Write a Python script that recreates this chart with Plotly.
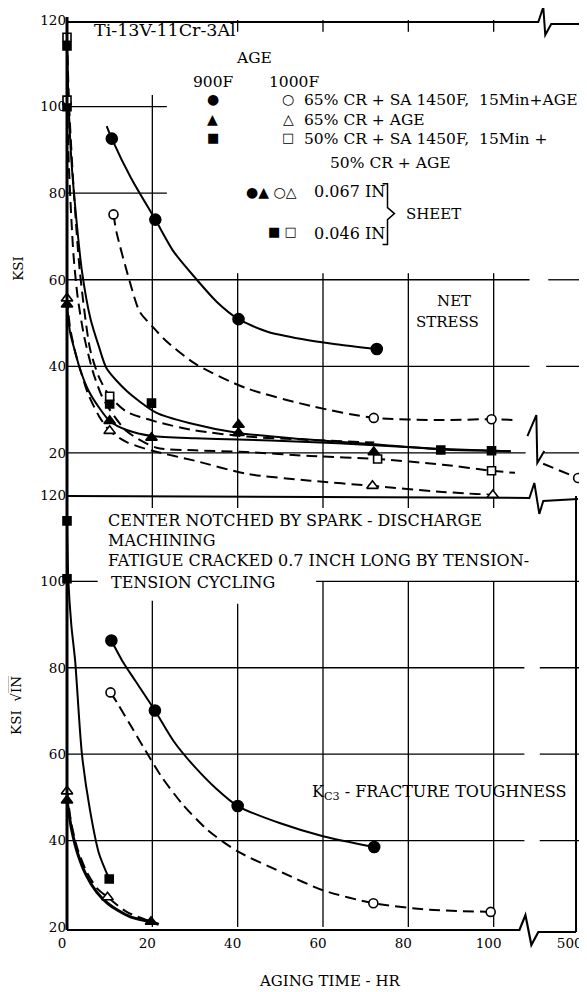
import plotly.graph_objects as go

# ---------------- NET STRESS panel (KSI) ----------------
# 900F  65% CR + SA 1450F, 15Min + AGE  (filled circle, solid)
ns_fc_hr = [10.5, 20.7, 40.2, 72.6]
ns_fc_ksi = [92.6, 73.9, 50.9, 44.0]
ns_fc_line_hr = [9.3, 10.5, 15, 20.7, 25, 30, 35, 40.2, 47, 55, 63, 72.6]
ns_fc_line_ksi = [95.5, 92.6, 83.5, 73.9, 66.5, 60.5, 55, 50.9, 48, 46.3, 45.1, 44.0]

# 1000F 65% CR + SA 1450F, 15Min + AGE  (open circle, dashed)
ns_oc_hr = [10.9, 71.9, 99.5]
ns_oc_ksi = [75.1, 28.1, 27.8]
ns_oc_line_hr = [10.9, 11.6, 14.7, 17, 20.2, 23.3, 30.2, 41.9, 57.4, 71.9, 88, 99.5, 105]
ns_oc_line_ksi = [75.1, 71, 59.6, 52.7, 49, 45.8, 40.5, 35, 30.8, 28.1, 27.6, 27.8, 27.6]

# 900F  65% CR + AGE  (filled triangle, solid)
ns_ft_hr = [0, 10, 19.8, 40.2, 40.2, 71.9]
ns_ft_ksi = [54.3, 27.4, 23.5, 26.5, 24.6, 20.2]
ns_ft_line_hr = [0, 0.7, 2, 3, 5, 7.5, 10, 14, 20, 30, 40, 55, 72, 87, 100, 104]
ns_ft_line_ksi = [54.3, 48, 43, 39.5, 34.5, 30.5, 27.4, 25.3, 23.9, 23.4, 23.1, 22.6, 21.8, 21, 20.5, 20.4]

# 1000F 65% CR + AGE  (open triangle, dashed)
ns_ot_hr = [0, 10, 71.6, 99.8]
ns_ot_ksi = [55.7, 25.1, 12.4, 10.3]
ns_ot_line_hr = [0, 0.7, 2, 3.5, 5, 7.5, 10, 14, 20, 30, 42, 57, 71.6, 88, 99.8]
ns_ot_line_ksi = [55.7, 49, 43, 38, 33.5, 28.5, 25.1, 22.5, 20.5, 18.2, 15.2, 13.6, 12.4, 11, 10.3]

# 900F  50% CR + SA 1450F, 15Min + 50% CR + AGE  (filled square, solid)
ns_fs_hr = [0, 0, 10, 19.8, 87.6, 99.5]
ns_fs_ksi = [114, 100, 31.3, 31.5, 20.7, 20.5]
ns_fs_line_hr = [0, 0.4, 1, 2, 3.5, 5.5, 7.5, 9.3, 14, 20.9, 28.6, 40.2, 55, 72, 87.6, 99.5, 104]
ns_fs_line_ksi = [114, 100, 88, 76, 62, 51, 44.5, 39.5, 34.3, 29.3, 26.9, 24.6, 23.2, 22, 20.8, 20.5, 20.4]

# 1000F 50% CR + SA 1450F, 15Min + 50% CR + AGE  (open square, dashed)
ns_os_hr = [0, 0, 10, 72.8, 99.5]
ns_os_ksi = [116, 101.5, 33.1, 18.6, 15.9]
ns_os_line_a_hr = [0, 0.5, 1.5, 3, 5.4, 7.5, 10, 14, 21, 30, 42, 57, 72]
ns_os_line_a_ksi = [116, 100, 82, 62, 44, 37.5, 33.1, 29.5, 27.2, 25.2, 23.8, 23, 22.4]
ns_os_line_b_hr = [0, 0.5, 1.5, 2.5, 4, 6, 8, 10, 14, 21, 30, 42, 57, 72.8, 88, 99.5, 105]
ns_os_line_b_ksi = [101.5, 85, 66, 56, 47, 39, 33.5, 30, 25, 21.2, 20.6, 20.2, 19.3, 18.6, 17.3, 15.9, 15.4]

# beyond the axis break: 500 HR
POS_500 = 119.8
ns_500_line_hr = [111.6, POS_500]
ns_500_line_ksi = [17.5, 14.2]
ns_500_ksi = [14.2]

# ---------------- FRACTURE TOUGHNESS panel (KSI sqrt IN) ----------------
kc_fc_hr = [10.4, 20.6, 40, 72]
kc_fc_val = [86.3, 70.1, 48.0, 38.5]
kc_fc_line_hr = [10.4, 12.9, 16, 20.6, 25, 30, 35, 40, 50, 60, 72]
kc_fc_line_val = [86.3, 81.7, 77, 70.1, 63, 57, 52, 48, 44, 41, 38.5]

kc_oc_hr = [10.2, 71.8, 99.3]
kc_oc_val = [74.3, 25.5, 23.5]
kc_oc_line_hr = [10.2, 12, 15, 18.3, 22, 27, 33, 40, 50.7, 60, 71.8, 85, 99.3]
kc_oc_line_val = [74.3, 71.5, 66.5, 61, 55, 48.5, 42.4, 37.5, 32.5, 28.5, 25.5, 24, 23.5]

kc_fs_hr = [0, 0, 9.9]
kc_fs_val = [114, 100.6, 31.1]
kc_fs_line_hr = [0, 0.3, 1, 1.9, 3.5, 5.4, 7.5, 9.9]
kc_fs_line_val = [114, 100.6, 90, 81.7, 60, 47, 37, 31.1]

kc_ft_hr = [0, 19.7]
kc_ft_val = [49.3, 21.2]
kc_ft_line_hr = [0, 1, 2.5, 4.5, 7, 9.5, 12, 15, 19.7, 21.5]
kc_ft_line_val = [49.3, 43, 37, 32, 28, 25.5, 23.8, 22.3, 21.2, 20.6]

kc_ot_hr = [0, 9.5]
kc_ot_val = [51.4, 26.9]
kc_ot_line_hr = [0, 1, 2.5, 4.5, 7, 9.5, 14, 19.7]
kc_ot_line_val = [51.4, 44, 38, 33, 29, 26.9, 23.5, 21.2]

x_tick_vals = [0, 20, 40, 60, 80, 100, 119]
x_tick_text = ['0', '20', '40', '60', '80', '100', '500']
y_ticks = [20, 40, 60, 80, 100, 120]

# ---------------- layout geometry ----------------
OFF = 8                    # page body margin in the browser
W, H = 587 - OFF, 992 - OFF
PLOT_L, PLOT_R, PLOT_T, PLOT_B = 67, 583, 18, 927   # plot area, page pixels
ML, MR = PLOT_L - OFF, W - (PLOT_R - OFF)
MT, MB = PLOT_T - OFF, H - (PLOT_B - OFF)
SPLIT = 433 / 909          # bottom panel share of plot height
TOP_Y0 = 10.3
FONT = 'DejaVu Serif'


def P(px, py):
    # page pixel position -> paper coordinates
    return (px - PLOT_L) / (PLOT_R - PLOT_L), (PLOT_B - py) / (PLOT_B - PLOT_T)


def path_px(pts):
    s = ''
    for i, (px, py) in enumerate(pts):
        x, y = P(px, py)
        s += ('M' if i == 0 else 'L') + f'{x:.5f},{y:.5f} '
    return s.strip()


fig = go.Figure()


def curve(x, y, top, dash=False, width=2.0):
    fig.add_trace(go.Scatter(
        x=x, y=y, mode='lines',
        line=dict(color='black', width=width, dash='11px,6px' if dash else 'solid',
                  shape='spline', smoothing=0.7),
        xaxis='x2' if top else 'x', yaxis='y2' if top else 'y',
        hoverinfo='skip', showlegend=False))


def marks(x, y, top, symbol, filled, size=10):
    fig.add_trace(go.Scatter(
        x=x, y=y, mode='markers', cliponaxis=False,
        marker=dict(symbol=symbol, size=size, color='black' if filled else 'white',
                    line=dict(color='black', width=1.6)),
        xaxis='x2' if top else 'x', yaxis='y2' if top else 'y',
        hoverinfo='skip', showlegend=False))


# top panel
curve(ns_fc_line_hr, ns_fc_line_ksi, True)
curve(ns_oc_line_hr, ns_oc_line_ksi, True, dash=True)
curve(ns_ft_line_hr, ns_ft_line_ksi, True)
curve(ns_ot_line_hr, ns_ot_line_ksi, True, dash=True)
curve(ns_fs_line_hr, ns_fs_line_ksi, True)
curve(ns_os_line_a_hr, ns_os_line_a_ksi, True, dash=True)
curve(ns_os_line_b_hr, ns_os_line_b_ksi, True, dash=True)
curve(ns_500_line_hr, ns_500_line_ksi, True, dash=True)
marks(ns_fc_hr, ns_fc_ksi, True, 'circle', True, 11)
marks(ns_oc_hr, ns_oc_ksi, True, 'circle', False, 9)
marks([POS_500], ns_500_ksi, True, 'circle', False, 9)
marks(ns_ft_hr, ns_ft_ksi, True, 'triangle-up', True, 10)
marks(ns_ot_hr, ns_ot_ksi, True, 'triangle-up', False, 10)
marks(ns_fs_hr, ns_fs_ksi, True, 'square', True, 8)
marks(ns_os_hr, ns_os_ksi, True, 'square', False, 8)

# bottom panel
curve(kc_fc_line_hr, kc_fc_line_val, False)
curve(kc_oc_line_hr, kc_oc_line_val, False, dash=True)
curve(kc_fs_line_hr, kc_fs_line_val, False)
curve(kc_ft_line_hr, kc_ft_line_val, False, width=3)
curve(kc_ot_line_hr, kc_ot_line_val, False, dash=True)
marks(kc_fc_hr, kc_fc_val, False, 'circle', True, 11)
marks(kc_oc_hr, kc_oc_val, False, 'circle', False, 9)
marks(kc_fs_hr, kc_fs_val, False, 'square', True, 8)
marks(kc_ft_hr, kc_ft_val, False, 'triangle-up', True, 10)
marks(kc_ot_hr, kc_ot_val, False, 'triangle-up', False, 10)

# ---------------- grid (data units) ----------------
grid = []
top_h = [(100, 0, 23.4), (80, 0, 23.4), (60, 0, 108.4), (60, 112.8, 120),
         (40, 0, 108.4), (40, 112.3, 120), (20, 0, 107.5), (20, 111.6, 120)]
top_v = [(20, 102.7, TOP_Y0), (40, 61.5, TOP_Y0), (60, 61.5, TOP_Y0),
         (80, 61.5, TOP_Y0), (100, 61.5, TOP_Y0),
         (40, 120, 117.3), (60, 120, 117.3), (80, 120, 117.3), (100, 120, 117.3)]
bot_h = [(100, 0, 7.2), (100, 58.4, 120), (80, 0, 107.2), (80, 110.8, 120),
         (60, 0, 107.2), (60, 110.8, 120), (40, 0, 107.2), (40, 110.8, 120)]
bot_v = [(20, 95.5, 20), (40, 94.8, 20), (60, 100, 20), (80, 100, 20), (100, 100, 20),
         (20, 120, 117), (40, 120, 117), (60, 120, 117), (80, 120, 117), (100, 120, 117)]
for y, x0, x1 in top_h:
    grid.append(dict(type='line', xref='x2', yref='y2', x0=x0, x1=x1, y0=y, y1=y))
for x, y0, y1 in top_v:
    grid.append(dict(type='line', xref='x2', yref='y2', x0=x, x1=x, y0=y0, y1=y1))
for y, x0, x1 in bot_h:
    grid.append(dict(type='line', xref='x', yref='y', x0=x0, x1=x1, y0=y, y1=y))
for x, y0, y1 in bot_v:
    grid.append(dict(type='line', xref='x', yref='y', x0=x, x1=x, y0=y0, y1=y1))
shapes = []
for g in grid:
    g['line'] = dict(color='black', width=1.3)
    g['layer'] = 'below'
    shapes.append(g)

# ---------------- frame with axis-break zigzags (page pixels) ----------------
frame_paths = [
    ([(67, 15), (67, 930)], 3),
    ([(67, 20), (542, 20), (547, 5), (549, 33), (555, 22), (587, 22)], 2),
    ([(584, 67), (584, 495)], 2),
    ([(580, 495), (580, 932)], 2),
    ([(67, 495), (533, 497), (538, 482), (543, 513), (547, 500), (582, 498)], 2),
    ([(67, 930), (523, 930), (529, 915), (535, 945), (542, 932), (580, 932)], 2.2),
    ([(531, 435), (540, 414), (541, 462), (548, 450)], 2),
    ([(385, 182), (390, 182), (390, 206), (397, 212), (390, 218), (390, 243), (385, 243)], 1.5),
]
for pts, w in frame_paths:
    shapes.append(dict(type='path', xref='paper', yref='paper', path=path_px(pts),
                       line=dict(color='black', width=w)))

# ---------------- texts (page pixels) ----------------
ann = []


def text(s, px, py, size=15, anchor='left', angle=0, family=FONT):
    x, y = P(px, py)
    ann.append(dict(text=s, x=x, y=y, xref='paper', yref='paper', showarrow=False,
                    xanchor=anchor, yanchor='middle', textangle=angle,
                    font=dict(family=family, size=size, color='black')))


text('Ti-13V-11Cr-3Al', 92, 28, 17.5)
text('AGE', 255, 56, 15.5, 'center')
text('900F', 215, 80, 15.5, 'center')
text('1000F', 296, 80, 15.5, 'center')
GL = 'DejaVu Sans'
text('●', 214, 97, 14, 'center', family=GL)
text('○', 290, 97, 14, 'center', family=GL)
text('▲', 214, 117, 14, 'center', family=GL)
text('△', 290, 117, 14, 'center', family=GL)
text('■', 214, 136, 13, 'center', family=GL)
text('□', 290, 136, 13, 'center', family=GL)
text('65% CR + SA 1450F,  15Min+AGE', 304, 98, 15.5)
text('65% CR + AGE', 304, 118, 15.5)
text('50% CR + SA 1450F,  15Min +', 304, 137, 15.5)
text('50% CR + AGE', 330, 161, 15.5)
text('●▲ ○△', 301, 190, 14, 'right', family=GL)
text('0.067 IN', 314, 190, 16)
text('■ □', 301, 230, 13, 'right', family=GL)
text('0.046 IN', 314, 232, 16)
text('SHEET', 407, 212, 15)
text('NET', 457, 300, 15, 'center')
text('STRESS', 450, 321, 15, 'center')
text('CENTER NOTCHED BY SPARK - DISCHARGE', 106, 520, 16)
text('MACHINING', 106, 540, 16)
text('FATIGUE CRACKED 0.7 INCH LONG BY TENSION-', 106, 560, 16)
text('TENSION CYCLING', 109, 582, 16)
text('K<sub>C3</sub> - FRACTURE TOUGHNESS', 312, 792, 16)
text('AGING TIME - HR', 332, 981, 15, 'center')
text('KSI', 18, 267, 13.5, 'center', angle=-90)
text("KSI  √<span style='text-decoration:overline'>IN</span>", 16, 705, 13.5, 'center', angle=-90)

axis_common = dict(showgrid=False, zeroline=False, showline=False, ticks='',
                   tickfont=dict(family=FONT, size=13.5, color='black'))

fig.update_layout(
    width=W, height=H,
    margin=dict(l=ML, r=MR, t=MT, b=MB),
    paper_bgcolor='white', plot_bgcolor='white',
    showlegend=False,
    xaxis=dict(range=[0, 120], domain=[0, 1], anchor='y',
               tickvals=x_tick_vals, ticktext=x_tick_text,
               ticklabelshift=-5, ticklabelstandoff=6, **axis_common),
    xaxis2=dict(range=[0, 120], domain=[0, 1], anchor='y2', matches='x',
                showticklabels=False, **axis_common),
    yaxis=dict(range=[20, 120], domain=[0, SPLIT], anchor='x',
               tickvals=y_ticks, **axis_common),
    yaxis2=dict(range=[TOP_Y0, 120], domain=[SPLIT, 1], anchor='x2',
                tickvals=y_ticks, **axis_common),
    shapes=shapes,
    annotations=ann,
)

fig.write_html('out.html')
